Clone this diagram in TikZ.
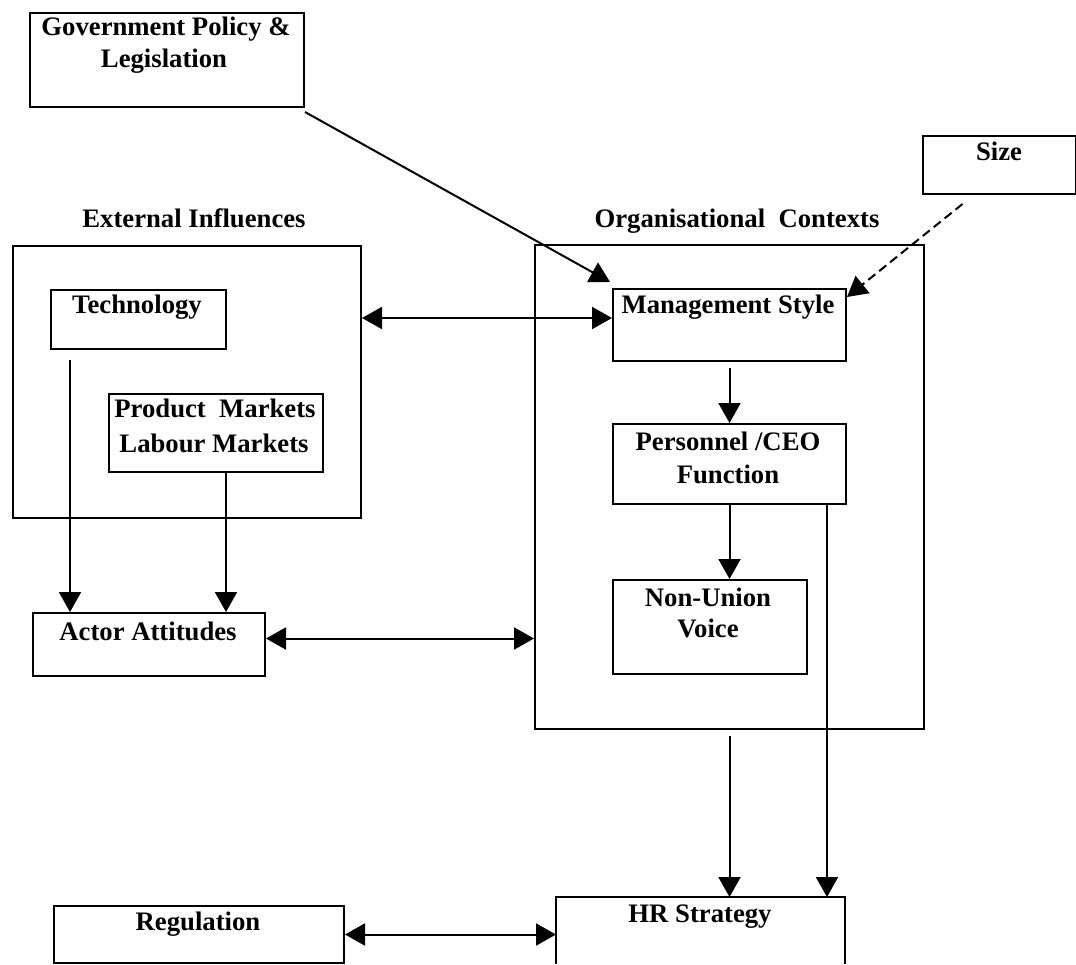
\documentclass[tikz,border=0pt]{standalone}
\usepackage{fontspec}
\setmainfont{Liberation Serif}
\usetikzlibrary{arrows.meta}
\begin{document}
\begin{tikzpicture}[x=1pt,y=-1pt,
  box/.style={draw, line width=2pt, inner sep=0pt, anchor=north west},
  ghost/.style={inner sep=0pt, anchor=north west},
  txt/.style={anchor=base, inner sep=0pt, font=\fontsize{26.7}{32}\selectfont\bfseries},
  arr/.style={line width=2pt, -{Triangle[length=20pt,width=22pt]}},
  darr/.style={line width=2pt, {Triangle[length=20pt,width=22pt]}-{Triangle[length=20pt,width=22pt]}},
  dashedarr/.style={line width=2pt, dash pattern=on 9pt off 5pt, -{Triangle[length=20pt,width=22pt]}}]
\fill[white] (0,0) rectangle (1076,964);
\useasboundingbox (0,0) rectangle (1076,964);

% boxes
\node[box, minimum width=274pt, minimum height=94pt] (gov) at (29,12) {};
\node[box, minimum width=153pt, minimum height=58pt] (size) at (922,135) {};
\node[box, minimum width=348pt, minimum height=272pt] (ext) at (12,245) {};
\node[box, minimum width=175pt, minimum height=59pt] (tech) at (50,289) {};
\node[box, minimum width=214pt, minimum height=78pt] (prod) at (108,393) {};
\node[box, minimum width=232pt, minimum height=63pt] (actor) at (32,612) {};
\node[box, minimum width=389pt, minimum height=484pt] (org) at (534,244) {};
\node[box, minimum width=233pt, minimum height=72pt] (mgmt) at (612,288) {};
\node[box, minimum width=233pt, minimum height=80pt] (pers) at (612,423) {};
\node[box, minimum width=194pt, minimum height=94pt] (nu) at (612,579) {};
\node[box, minimum width=290pt, minimum height=57pt] (reg) at (53,905) {};
\node[ghost, minimum width=289pt, minimum height=67pt] (hr) at (556,897) {};
\draw[line width=2pt] (hr.south west) -- (hr.north west) -- (hr.north east) -- (hr.south east);

% texts
\node[txt] (govA) at (166,35) {Government Policy \&};
\node[txt] (govB) at (164,67) {Legislation};
\node[txt] (sizeT) at (999,160) {Size};
\node[txt] (extL) at (194,227) {External Influences};
\node[txt] (orgL) at (737,227) {Organisational\ \ Contexts};
\node[txt] (techT) at (137,313) {Technology};
\node[txt] (prodA) at (215,417) {Product\ \ Markets};
\node[txt] (prodB) at (214,452) {Labour Markets};
\node[txt] (actorT) at (148,640) {Actor Attitudes};
\node[txt] (mgmtT) at (728,313) {Management Style};
\node[txt] (persA) at (728,450) {Personnel /CEO};
\node[txt] (persB) at (728,483) {Function};
\node[txt] (nuA) at (708,606) {Non-Union};
\node[txt] (nuB) at (708,637) {Voice};
\node[txt] (hrT) at (700,922) {HR Strategy};
\node[txt] (regT) at (198,930) {Regulation};

% connectors
\draw[arr] ([yshift=-4pt]gov.south east) -- ([shift={(-2pt,6pt)}]mgmt.north west);
\draw[dashedarr] ([shift={(-37pt,-9pt)}]size.south) -- ([yshift=-9pt]mgmt.north east);
\coordinate (em) at ([yshift=7pt]mgmt.west);
\draw[darr] (ext.east |- em) -- (em);
\coordinate (t1) at ([shift={(20pt,-10pt)}]tech.south west);
\draw[arr] (t1) -- (t1 |- actor.north);
\coordinate (p1) at ([xshift=10pt]prod.south);
\draw[arr] (p1) -- (p1 |- actor.north);
\coordinate (ao) at ([yshift=6pt]actor.east);
\draw[darr] (ao) -- (ao -| org.west);
\draw[arr] ([yshift=-6pt]mgmt.south) -- (pers.north);
\draw[arr] (pers.south) -- (pers.south |- nu.north);
\coordinate (p2) at ([xshift=-20pt]pers.south east);
\draw[arr] (p2) -- (p2 |- hr.north);
\draw[arr] ([yshift=-6pt]org.south) -- (org.south |- hr.north);
\draw[darr] (reg.east) -- (reg.east -| hr.west);
\end{tikzpicture}
\end{document}
